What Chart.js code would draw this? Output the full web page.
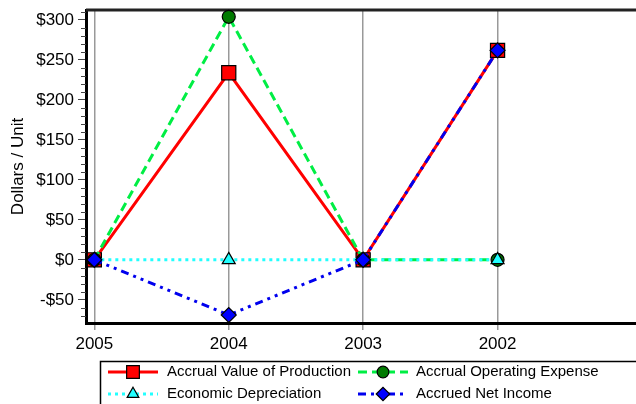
<!DOCTYPE html>
<html><head><meta charset="utf-8">
<script src="https://cdn.jsdelivr.net/npm/chart.js@4"></script>
<style>html,body{margin:0;padding:0;background:#fff;overflow:hidden}canvas{display:block}</style>
</head><body><canvas id="c" width="636" height="404"></canvas>
<script>
const years = ['2005', '2004', '2003', '2002'];
const valueOfProduction = [0, 234, 0, 262];
const operatingExpense = [0, 304, 0, 0];
const economicDepreciation = [0, 0, 0, 0];
const netIncome = [0, -69, 0, 262];
const seriesNames = ['Accrual Value of Production', 'Accrual Operating Expense', 'Economic Depreciation', 'Accrued Net Income'];
const yMin = -79, yMax = 312.5, yMajorStep = 50, yMinorStep = 10;

const FONT = "'Liberation Sans', Arial, sans-serif";
Chart.defaults.font.family = FONT;
Chart.defaults.font.size = 17;
Chart.defaults.color = '#000';

const toXY = arr => arr.map((v, i) => ({x: i, y: v}));

const styles = [
  {color: '#ff0000', dash: [], point: 'rect', radius: 10, fill: '#ff0000'},
  {color: '#00ee44', dash: [9, 5], point: 'circle', radius: 6.5, fill: '#007a00'},
  {color: '#22ffff', dash: [3, 4], point: 'triangle', radius: 7.5, fill: '#22ffff'},
  {color: '#0000ee', dash: [8, 5, 3, 5, 3, 5], point: 'rectRot', radius: 7.5, fill: '#0000ff'}
];
const seriesData = [valueOfProduction, operatingExpense, economicDepreciation, netIncome];

const datasets = seriesData.map((d, i) => ({
  label: seriesNames[i],
  data: toXY(d),
  borderColor: styles[i].color,
  borderDash: styles[i].dash,
  borderWidth: 3,
  pointStyle: styles[i].point,
  pointRadius: styles[i].radius,
  pointBackgroundColor: styles[i].fill,
  pointBorderColor: '#000',
  pointBorderWidth: 1.2,
  tension: 0,
  fill: false,
  clip: false,
  order: 4 - i
}));

function drawMarker(ctx, st, x, y) {
  ctx.save();
  ctx.setLineDash([]);
  ctx.fillStyle = st.fill;
  ctx.strokeStyle = '#000';
  ctx.lineWidth = 1.2;
  if (Chart.helpers && Chart.helpers.drawPoint) {
    Chart.helpers.drawPoint(ctx, {pointStyle: st.point, radius: st.radius * 0.9, rotation: 0, borderWidth: 1.2}, x, y);
  }
  ctx.restore();
}

const framePlugin = {
  id: 'frame',
  beforeDatasetsDraw(chart) {
    const ctx = chart.ctx, a = chart.chartArea, ys = chart.scales.y;
    ctx.save();
    ctx.strokeStyle = '#222';
    ctx.lineWidth = 3;
    ctx.beginPath();
    ctx.moveTo(a.left, a.top);
    ctx.lineTo(chart.width, a.top);
    ctx.stroke();
    ctx.strokeStyle = '#444';
    ctx.lineWidth = 1;
    for (let v = Math.ceil(yMin / yMinorStep) * yMinorStep; v <= yMax; v += yMinorStep) {
      if (v % yMajorStep === 0) continue;
      const py = Math.round(ys.getPixelForValue(v)) + 0.5;
      ctx.beginPath();
      ctx.moveTo(a.left - 5, py);
      ctx.lineTo(a.left, py);
      ctx.stroke();
    }
    ctx.restore();
  },
  afterDraw(chart) {
    const ctx = chart.ctx;
    ctx.save();
    ctx.strokeStyle = '#000';
    ctx.lineWidth = 1.5;
    ctx.strokeRect(100.5, 361.5, 600, 60);
    const cols = [{x1: 108, x2: 158, m: 133, t: 167}, {x1: 358, x2: 408, m: 383, t: 416}];
    const rows = [372, 394];
    ctx.font = '15px ' + FONT;
    ctx.textBaseline = 'middle';
    ctx.fillStyle = '#000';
    seriesNames.forEach((name, i) => {
      const c = cols[i % 2], y = rows[Math.floor(i / 2)], st = styles[i];
      ctx.save();
      ctx.strokeStyle = st.color;
      ctx.lineWidth = 3;
      ctx.setLineDash(st.dash);
      ctx.beginPath();
      ctx.moveTo(c.x1, y);
      ctx.lineTo(c.x2, y);
      ctx.stroke();
      ctx.restore();
      drawMarker(ctx, st, c.m, y);
      ctx.fillStyle = '#000';
      ctx.fillText(name, c.t, y);
    });
    ctx.restore();
  }
};

new Chart(document.getElementById('c'), {
  type: 'line',
  data: {datasets},
  options: {
    responsive: false,
    animation: false,
    layout: {autoPadding: false, padding: {top: 10, left: 0, right: 0, bottom: 0}},
    plugins: {legend: {display: false}, tooltip: {enabled: false}},
    scales: {
      x: {
        type: 'linear',
        min: -0.062,
        max: 4.03,
        afterBuildTicks: s => { s.ticks = years.map((_, i) => ({value: i})); },
        afterFit: s => { s.height = 81; s.paddingLeft = 0; s.paddingRight = 0; },
        ticks: {callback: v => years[v] ?? '', padding: 4, maxRotation: 0, autoSkip: false},
        grid: {color: '#999', lineWidth: 1.5, tickLength: 7, drawOnChartArea: true},
        border: {display: true, color: '#000', width: 3}
      },
      y: {
        type: 'linear',
        min: yMin,
        max: yMax,
        afterFit: s => { s.width = 86; s.paddingTop = 0; s.paddingBottom = 0; },
        ticks: {stepSize: yMajorStep, includeBounds: false, padding: 4,
          callback: v => (v < 0 ? '-$' : '$') + Math.abs(v)},
        grid: {drawOnChartArea: false, tickLength: 8, color: '#444', lineWidth: 1},
        border: {display: true, color: '#000', width: 3},
        title: {display: true, text: 'Dollars / Unit', font: {size: 17}, padding: 8}
      }
    }
  },
  plugins: [framePlugin]
});
</script>
</body></html>
